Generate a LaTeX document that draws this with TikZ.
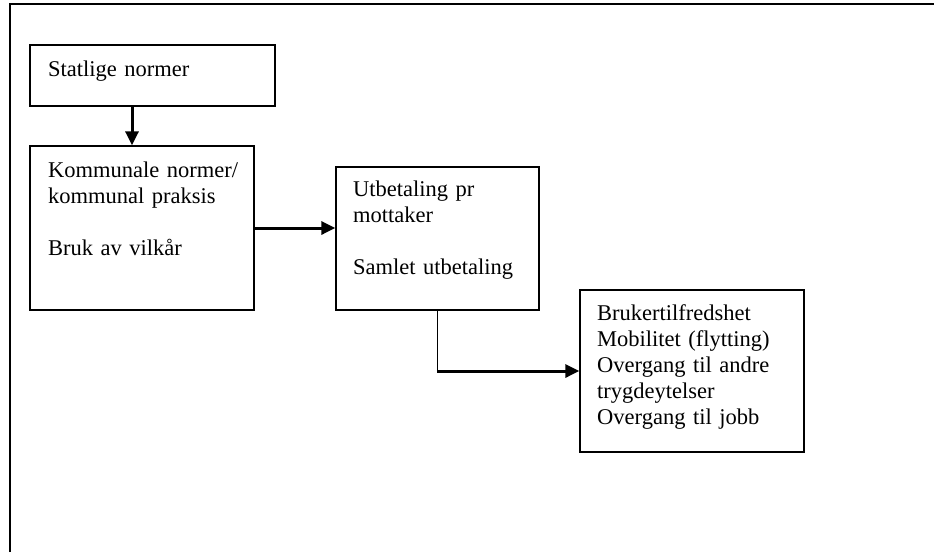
\documentclass[tikz,border=0pt]{standalone}
\usepackage{fontspec}
\setmainfont{Liberation Serif}
\usepackage{tikz}
\usetikzlibrary{arrows.meta, calc}

\begin{document}
\begin{tikzpicture}[x=1pt, y=-1pt,
  box/.style={draw, line width=1.3pt, inner sep=0pt},
  txt/.style={anchor=base west, inner sep=0pt, text width=240pt, align=left,
              font=\fontsize{22.5}{26}\selectfont},
  flow/.style={line width=3pt, -{Triangle[length=14pt, width=13pt]}},
]
  \useasboundingbox (0,0) rectangle (934,552);
  \draw[line width=2pt] (10,552) -- (10,4) -- (934,4);

  % boxes
  \node[box, minimum width=245pt, minimum height=61pt]  (stat) at (152.5, 75.5) {};
  \node[box, minimum width=224pt, minimum height=164pt] (kom)  at (142, 228) {};
  \node[box, minimum width=203pt, minimum height=143pt] (utb)  at (437.5, 238.5) {};
  \node[box, minimum width=224pt, minimum height=162pt] (bru)  at (692, 371) {};

  % texts
  \node[txt] (tstat) at (48, 76) {Statlige normer};
  \node[txt] (tkom) at (48, 177) {Kommunale normer/\\ kommunal praksis\\[26pt] Bruk av vilkår};
  \node[txt] (tutb) at (353, 196) {Utbetaling pr\\ mottaker\\[26pt] Samlet utbetaling};
  \node[txt] (tbru) at (597, 320) {Brukertilfredshet\\ Mobilitet (flytting)\\ Overgang til andre\\ trygdeytelser\\ Overgang til jobb};

  % connectors
  \draw[flow] ([xshift=-20.5pt]stat.south) -- ([xshift=-10pt]kom.north);
  \draw[flow] (kom.east) -- (kom.east -| utb.west);
  \draw[line width=1.3pt] (utb.south) -- (utb.south |- bru.west) coordinate (bend);
  \draw[flow] ([xshift=-0.65pt]bend) -- (bru.west);
\end{tikzpicture}
\end{document}
